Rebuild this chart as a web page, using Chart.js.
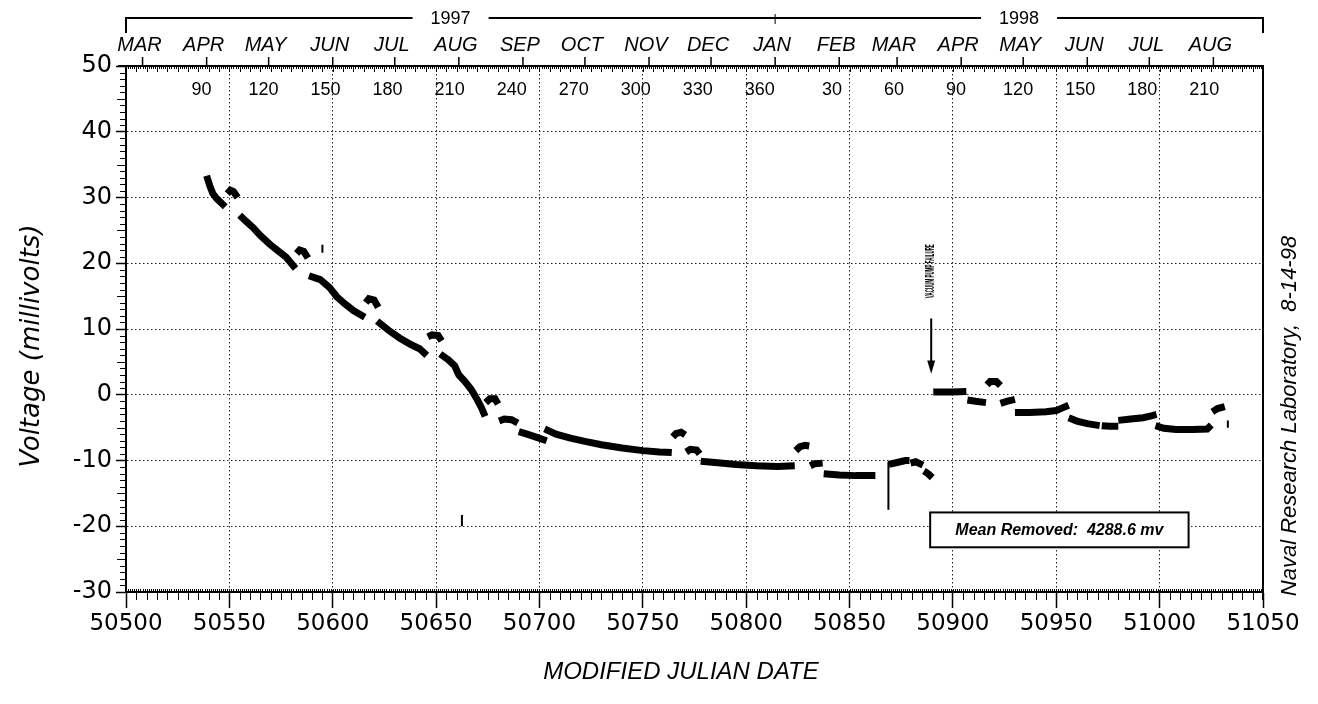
<!DOCTYPE html>
<html>
<head>
<meta charset="utf-8">
<script src="https://cdn.jsdelivr.net/npm/chart.js@4.4.0/dist/chart.umd.min.js"></script>
<style>
  html, body { margin: 0; padding: 0; background: #fff; }
  #wrap { width: 1318px; height: 704px; }
</style>
</head>
<body>
<div id="wrap"><canvas id="chart" width="1318" height="704"></canvas></div>
<script>
// --- voltage record: MJD vs millivolts, null marks a break between runs ---
const traceMjd = [
  50539, 50540.5, 50542, 50544, 50546, 50548, null,
  50549, 50550.5, 50552, 50554, null,
  50555, 50558, 50561.5, 50565, 50569.5, 50573.5, 50577.5, 50582, null,
  50582.5, 50584, 50586, 50588, null,
  50588.5, 50594, 50598.5, 50602, 50606, 50610, 50615.5, null,
  50616, 50617.5, 50620, 50622, null,
  50621.5, 50627, 50632.5, 50638, 50642, 50645.5, null,
  50646, 50648, 50651, 50652.7, null,
  50652, 50656, 50659, 50661, 50664, 50667, 50670, 50672, 50673.7, null,
  50674, 50676, 50678.5, 50680, null,
  50680.5, 50683, 50686.5, 50689.5, null,
  50690, 50694, 50698, 50703.5, null,
  50702.5, 50708, 50715, 50722, 50730, 50740, 50750, 50758, 50764, null,
  50764.5, 50766, 50768.5, 50770.5, null,
  50771, 50773, 50776, 50777.5, null,
  50778, 50785, 50795, 50805, 50815, 50823.5, null,
  50824, 50826, 50828.5, 50830.5, null,
  50831, 50833, 50837, null,
  50837.5, 50845, 50853, 50862.5, null,
  50869, 50873, 50877, 50879, null,
  50879.5, 50882, 50885.5, null,
  50886, 50888, 50890, null,
  50890.5, 50895, 50900, 50906.5, null,
  50907, 50911, 50916, null,
  50916.5, 50918, 50921, 50923, null,
  50923, 50926, 50930, null,
  50930, 50937, 50945, 50950, 50953, 50956, null,
  50956, 50960, 50965, 50971, null,
  50972, 50976, 50980, null,
  50980, 50986, 50992, 50996, 50998.5, null,
  50998, 51002, 51008, 51016, 51023, 51025, null,
  51025.5, 51028, 51031.5
];
const traceMv = [
  33.3, 31.8, 30.6, 29.8, 29.2, 28.6, null,
  30.6, 31.1, 30.9, 30.0, null,
  27.3, 26.4, 25.4, 24.2, 22.9, 21.9, 20.9, 19.2, null,
  21.5, 22.0, 21.8, 20.8, null,
  18.1, 17.5, 16.3, 14.9, 13.8, 12.8, 11.8, null,
  14.0, 14.6, 14.4, 13.3, null,
  11.2, 9.8, 8.6, 7.6, 7.0, 6.0, null,
  8.8, 9.1, 9.0, 8.2, null,
  6.2, 5.3, 4.4, 3.0, 2.0, 0.8, -0.8, -2.0, -3.3, null,
  -1.2, -0.6, -0.6, -1.4, null,
  -4.0, -3.7, -3.8, -4.3, null,
  -5.6, -6.0, -6.4, -7.0, null,
  -5.2, -6.0, -6.6, -7.1, -7.6, -8.1, -8.5, -8.7, -8.8, null,
  -6.4, -5.9, -5.7, -6.1, null,
  -8.7, -8.3, -8.4, -9.0, null,
  -10.1, -10.3, -10.6, -10.8, -10.9, -10.8, null,
  -8.5, -7.9, -7.7, -7.8, null,
  -10.8, -10.5, -10.4, null,
  -12.0, -12.2, -12.3, -12.3, null,
  -10.6, -10.3, -10.0, -10.0, null,
  -10.4, -10.2, -10.7, null,
  -11.6, -12.0, -12.6, null,
  0.4, 0.4, 0.4, 0.5, null,
  -0.8, -1.0, -1.2, null,
  1.5, 2.0, 2.0, 1.4, null,
  -1.3, -1.0, -0.7, null,
  -2.7, -2.7, -2.6, -2.4, -2.0, -1.6, null,
  -3.5, -4.0, -4.4, -4.7, null,
  -4.7, -4.8, -4.8, null,
  -3.9, -3.7, -3.5, -3.2, -3.0, null,
  -4.7, -5.1, -5.3, -5.3, -5.2, -4.6, null,
  -2.6, -2.1, -1.8
];

// single-reading glitches (thin vertical strokes)
const spikeMjd = [50595, 50595, null, 50662.5, 50662.5, null, 50868.8, 50868.8, null, 51033, 51033];
const spikeMv  = [21.6, 22.8, null, -18.3, -20.0, null, -17.5, -10.2, null, -3.9, -5.0];

// axis ticks
const mjdTicks = [50500, 50550, 50600, 50650, 50700, 50750, 50800, 50850, 50900, 50950, 51000, 51050];
const mvTicks = [-30, -20, -10, 0, 10, 20, 30, 40, 50];

// calendar header
const monthNames = ['MAR', 'APR', 'MAY', 'JUN', 'JUL', 'AUG', 'SEP', 'OCT', 'NOV', 'DEC',
                    'JAN', 'FEB', 'MAR', 'APR', 'MAY', 'JUN', 'JUL', 'AUG'];
const monthStartMjd = [50508, 50539, 50569, 50600, 50630, 50661, 50692, 50722, 50753, 50783,
                       50814, 50845, 50873, 50904, 50934, 50965, 50995, 51026];
const years = ['1997', '1998'];
const yearStartMjd = [50449, 50814];
const dayNumbers1997 = [90, 120, 150, 180, 210, 240, 270, 300, 330, 360];
const dayNumbers1998 = [30, 60, 90, 120, 150, 180, 210];

const xTitle = 'MODIFIED JULIAN DATE';
const yTitle = 'Voltage (millivolts)';
const meanRemoved = 'Mean Removed:  4288.6 mv';
const stamp = 'Naval Research Laboratory,  8-14-98';
const pumpNote = 'VACUUM PUMP FAILURE';
const pumpFailureMjd = 50889.5;

const FONT_NUM = 'DejaVu Sans';
const FONT_TXT = 'Liberation Sans';

function toPoints(xs, ys) {
  return xs.map((m, i) => ({ x: m, y: ys[i] }));
}

function line(ctx, x1, y1, x2, y2) {
  ctx.beginPath();
  ctx.moveTo(x1, y1);
  ctx.lineTo(x2, y2);
  ctx.stroke();
}

// --- everything the axes themselves do not draw ---
const decor = {
  id: 'decor',
  afterDraw(chart) {
    const { ctx, chartArea: a, scales: { x, y } } = chart;
    const px = v => x.getPixelForValue(v);
    const py = v => y.getPixelForValue(v);
    ctx.save();
    ctx.strokeStyle = '#000';
    ctx.fillStyle = '#000';
    ctx.textAlign = 'center';
    ctx.textBaseline = 'middle';

    // top and right frame
    ctx.lineWidth = 2;
    line(ctx, a.left - 8, a.top, a.right + 1, a.top);
    line(ctx, a.right, a.top, a.right, a.bottom + 8);

    // minor ticks
    ctx.lineWidth = 1;
    for (let d = x.min; d <= x.max; d++) {
      const xx = Math.round(px(d)) + 0.5;
      const five = d % 5 === 0;
      line(ctx, xx, a.top, xx, a.top + (five ? 6 : 3));
      line(ctx, xx, a.bottom, xx, a.bottom - 3);
      if (five && d % 50 !== 0) line(ctx, xx, a.bottom, xx, a.bottom + 8);
    }
    for (let v = y.min; v <= y.max; v++) {
      if (v % 10 === 0) continue;
      const yy = Math.round(py(v)) + 0.5;
      line(ctx, a.left - (v % 5 === 0 ? 9 : 6), yy, a.left, yy);
    }

    // month ticks and names
    ctx.lineWidth = 1.5;
    ctx.font = 'italic 20px ' + FONT_TXT;
    monthStartMjd.forEach((m, i) => {
      const xx = px(m);
      line(ctx, xx, a.top - 9, xx, a.top);
      ctx.fillText(monthNames[i], xx - 3, 45);
    });

    // day-of-year numbers inside the top of the plot
    ctx.font = '18px ' + FONT_TXT;
    dayNumbers1997.forEach(d => ctx.fillText(String(d), px(yearStartMjd[0] + d - 1) - 3, 90));
    dayNumbers1998.forEach(d => ctx.fillText(String(d), px(yearStartMjd[1] + d - 1) - 3, 90));

    // year bracket
    ctx.font = '18px ' + FONT_TXT;
    ctx.lineWidth = 2;
    const yl = 18;
    years.forEach((label, i) => {
      const x0 = Math.max(px(yearStartMjd[i]), a.left);
      const x1 = i + 1 < years.length ? px(yearStartMjd[i + 1]) : a.right;
      const mid = (x0 + x1) / 2;
      const half = ctx.measureText(label).width / 2 + 18;
      line(ctx, x0, yl, mid - half, yl);
      line(ctx, mid + half, yl, x1, yl);
      ctx.fillText(label, mid, yl + 1);
    });
    line(ctx, a.left, yl - 1, a.left, yl + 15);
    line(ctx, a.right, yl - 1, a.right, yl + 15);
    ctx.lineWidth = 1;
    line(ctx, px(yearStartMjd[1]), yl - 4, px(yearStartMjd[1]), yl + 6);

    // axis titles
    ctx.font = 'italic 24px ' + FONT_TXT;
    ctx.fillText(xTitle, 681, 672);
    ctx.save();
    ctx.translate(32, 346);
    ctx.rotate(-Math.PI / 2);
    ctx.font = 'oblique 26px ' + FONT_NUM;
    ctx.fillText(yTitle, 0, 0);
    ctx.restore();

    // vacuum pump failure note and arrow
    const ax = px(pumpFailureMjd);
    ctx.save();
    ctx.translate(ax - 1, py(18.8));
    ctx.rotate(-Math.PI / 2);
    ctx.font = 'bold 13px ' + FONT_TXT;
    const tw = ctx.measureText(pumpNote).width;
    ctx.scale(54 / tw, 1);
    ctx.fillText(pumpNote, 0, 0);
    ctx.restore();
    ctx.lineWidth = 2;
    line(ctx, ax, py(11.6), ax, py(4.8));
    ctx.beginPath();
    ctx.moveTo(ax - 4, py(5.2));
    ctx.lineTo(ax + 4, py(5.2));
    ctx.lineTo(ax, py(3.2));
    ctx.closePath();
    ctx.fill();

    // mean removed box
    const bx0 = px(50889), bx1 = px(51014), by0 = py(-17.9), by1 = py(-23.2);
    ctx.fillStyle = '#fff';
    ctx.fillRect(bx0, by0, bx1 - bx0, by1 - by0);
    ctx.fillStyle = '#000';
    ctx.lineWidth = 2;
    ctx.strokeRect(bx0, by0, bx1 - bx0, by1 - by0);
    ctx.font = 'italic bold 16px ' + FONT_TXT;
    ctx.fillText(meanRemoved, (bx0 + bx1) / 2, (by0 + by1) / 2 + 1);

    // source stamp on the right
    ctx.save();
    ctx.translate(1290, 416);
    ctx.rotate(-Math.PI / 2);
    ctx.font = 'italic 22px ' + FONT_TXT;
    ctx.fillText(stamp, 0, 0);
    ctx.restore();

    ctx.restore();
  }
};

const ctx = document.getElementById('chart').getContext('2d');
const chart = new Chart(ctx, {
  type: 'scatter',
  data: {
    datasets: [
      { data: toPoints(traceMjd, traceMv), showLine: true, borderColor: '#000', borderWidth: 7,
        pointRadius: 0, spanGaps: false, tension: 0 },
      { data: toPoints(spikeMjd, spikeMv), showLine: true, borderColor: '#000', borderWidth: 2,
        pointRadius: 0, spanGaps: false, tension: 0 }
    ]
  },
  options: {
    responsive: false,
    animation: false,
    layout: { padding: { top: 66, right: 55, left: 0, bottom: 0 } },
    plugins: { legend: { display: false }, tooltip: { enabled: false } },
    scales: {
      x: {
        type: 'linear', position: 'bottom', min: 50500, max: 51050,
        afterBuildTicks: s => { s.ticks = mjdTicks.map(v => ({ value: v })); },
        ticks: { autoSkip: false, maxRotation: 0, color: '#000', padding: 2,
                 font: { family: FONT_NUM, size: 23 }, callback: v => String(v) },
        grid: { color: c => (c.index === 0 || c.index === mjdTicks.length - 1) ? 'rgba(0,0,0,0)' : '#222',
                lineWidth: 1, tickLength: 16, tickColor: '#000', tickWidth: 1.5 },
        border: { display: true, color: '#000', width: 2, dash: [1.5, 2.5] },
        afterFit: s => { s.height = 112; s.paddingLeft = 0; s.paddingRight = 0; }
      },
      y: {
        min: -30, max: 50,
        afterBuildTicks: s => { s.ticks = mvTicks.map(v => ({ value: v })); },
        ticks: { color: '#000', padding: 4, font: { family: FONT_NUM, size: 24 }, callback: v => String(v) },
        grid: { color: c => (c.index === 0 || c.index === mvTicks.length - 1) ? 'rgba(0,0,0,0)' : '#222',
                lineWidth: 1, tickLength: 10, tickColor: '#000', tickWidth: 1.5 },
        border: { display: true, color: '#000', width: 2, dash: [1.5, 2.5] },
        afterFit: s => { s.width = 126; s.paddingTop = 0; s.paddingBottom = 0; }
      }
    }
  },
  plugins: [decor]
});
</script>
</body>
</html>
